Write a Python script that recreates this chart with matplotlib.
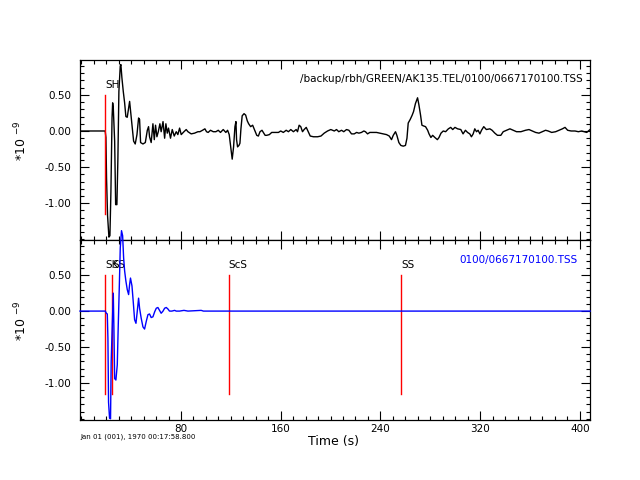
import matplotlib
matplotlib.use('Agg')
import matplotlib.pyplot as plt
from matplotlib.ticker import MultipleLocator, FixedLocator

# top trace (black), time in s and amplitude in 1e-9
top_t = [-1.0, 19.2, 19.8, 20.3, 21.1, 22.2, 23.0, 23.8, 24.7, 25.2, 25.7, 26.8, 27.6, 28.6,
         29.4, 30.2, 31.3, 31.8, 32.6, 33.7, 34.8, 35.8, 36.9, 38.0, 38.8, 39.5, 40.7, 42.0,
         43.3, 44.7, 46.0, 46.8, 47.6, 49.5, 51.4, 53.0, 54.0, 54.8, 56.1, 57.5, 58.6, 59.6,
         60.7, 61.8, 63.1, 64.1, 65.6, 66.9, 67.9, 69.0, 70.0, 71.6, 73.0, 74.6, 76.2, 77.5,
         78.9, 80.2, 82.4, 84.2, 85.6, 88.2, 90.9, 93.6, 95.2, 97.3, 99.2, 100.5, 101.8, 103.7,
         105.9, 108.0, 109.9, 111.7, 113.9, 116.0, 117.4, 118.7, 120.0, 121.1, 122.2, 123.3,
         124.1, 124.6, 125.4, 126.5, 127.3, 128.1, 129.1, 130.6, 131.9, 133.2, 134.3, 135.9,
         137.5, 138.9, 140.8, 142.1, 143.4, 145.0, 146.1, 147.5, 148.8, 150.9, 152.8, 155.5,
         158.2, 160.0, 162.1, 164.4, 166.2, 168.1, 170.2, 172.4, 173.5, 174.8, 176.1, 177.5,
         178.8, 180.5, 182.1, 183.7, 186.3, 189.6, 192.3, 194.9, 197.6, 200.2, 203.0, 204.8,
         206.6, 208.8, 210.6, 212.8, 214.7, 216.8, 219.0, 220.9, 222.7, 224.8, 226.7, 228.0,
         229.7, 231.5, 234.2, 236.9, 239.6, 242.2, 244.9, 247.1, 248.9, 250.3, 252.1, 253.2,
         254.8, 256.4, 258.3, 260.1, 261.3, 262.3, 263.9, 265.5, 266.6, 268.1, 269.8, 270.9,
         272.2, 273.3, 274.6, 276.2, 277.9, 279.0, 280.5, 281.9, 283.7, 285.7, 287.0, 288.6,
         290.4, 292.3, 294.5, 296.4, 298.0, 299.8, 301.9, 304.5, 306.3, 308.2, 309.9, 311.7,
         313.0, 314.4, 315.7, 317.1, 318.4, 319.8, 321.1, 322.9, 325.0, 327.8, 329.6, 331.8,
         333.9, 336.6, 338.5, 341.1, 343.9, 346.5, 349.2, 352.7, 356.4, 359.2, 361.8, 364.5,
         367.2, 369.9, 372.5, 374.6, 377.4, 380.6, 383.2, 386.0, 388.1, 390.2, 393.0, 396.1,
         398.8, 401.5, 403.6, 405.5, 406.8, 408.2]
top_v = [0.0, 0.0, -0.09, -0.66, -1.17, -1.47, -1.45, -0.84, 0.18, 0.39, 0.32, -0.14, -1.02, -1.02,
         -0.38, 0.55, 0.90, 0.92, 0.74, 0.55, 0.39, 0.20, 0.19, 0.32, 0.41, 0.29, 0.09, -0.14,
         -0.18, -0.05, 0.18, 0.16, -0.16, -0.18, -0.16, 0.01, 0.06, -0.08, -0.16, 0.10, -0.12, 0.08,
         -0.08, -0.01, 0.10, -0.01, 0.13, -0.10, 0.10, -0.03, 0.04, -0.10, 0.02, -0.07, -0.01, -0.05,
         0.04, -0.05, -0.01, 0.02, -0.01, -0.04, -0.03, -0.01, -0.01, 0.01, 0.03, -0.01, -0.02, 0.01,
         -0.01, -0.01, 0.01, -0.02, 0.02, -0.02, 0.01, -0.05, -0.24, -0.39, -0.22, 0.06,
         0.13, -0.12, -0.22, -0.20, -0.17, 0.03, 0.21, 0.24, 0.22, 0.14, 0.10, 0.06,
         0.08, 0.02, -0.06, -0.07, -0.01, 0.01, -0.02, -0.06, -0.06, -0.05, -0.02, -0.02,
         -0.02, 0.0, -0.02, 0.01, -0.01, 0.02, -0.01, 0.02, -0.01, 0.08, 0.06, -0.01,
         0.02, 0.05, -0.01, -0.07, -0.08, -0.08, -0.07, -0.03, 0.0, 0.02, 0.0, 0.02,
         -0.01, 0.01, -0.01, 0.02, 0.01, -0.04, -0.04, -0.02, -0.03, -0.02, 0.0, -0.01,
         -0.04, -0.02, -0.02, -0.02, -0.03, -0.04, -0.05, -0.07, -0.12, -0.06, -0.01, -0.06,
         -0.16, -0.20, -0.21, -0.20, -0.10, 0.11, 0.16, 0.22, 0.27, 0.38, 0.46, 0.36,
         0.22, 0.08, 0.07, 0.06, 0.01, -0.04, -0.09, -0.06, -0.09, -0.12, -0.09, -0.03,
         0.0, -0.01, 0.03, 0.05, 0.02, 0.05, 0.03, 0.02, -0.04, 0.01, -0.02, -0.04,
         -0.08, -0.04, 0.03, -0.01, 0.01, -0.04, 0.01, 0.06, 0.02, 0.03, 0.01, -0.03,
         -0.06, -0.06, -0.01, 0.01, 0.03, 0.01, -0.01, -0.01, 0.01, 0.02, 0.0, -0.02,
         -0.03, -0.01, 0.01, 0.0, -0.02, -0.01, 0.01, 0.03, 0.05, 0.01, 0.0, 0.0,
         -0.01, 0.0, -0.01, -0.02, 0.0, 0.02]

# bottom trace (blue)
bot_t = [-1.0, 19.3, 20.1, 20.9, 21.4, 21.9, 22.7, 23.5, 24.0, 24.9, 25.7, 26.2, 26.8, 27.8, 28.9,
         29.7, 30.5, 31.3, 32.3, 33.2, 34.0, 34.8, 35.8, 36.9, 38.0, 38.8, 39.5, 40.7, 41.8,
         42.8, 43.9, 44.9, 46.0, 46.8, 48.1, 49.5, 50.8, 52.2, 53.5, 54.8, 56.1, 57.5, 58.9,
         60.2, 61.5, 62.8, 64.1, 65.6, 66.9, 68.2, 69.5, 70.8, 72.7, 74.9, 76.2, 78.9, 82.4,
         85.6, 96.2, 98.0, 408.2]
bot_v = [0.0, 0.0, -0.03, -0.04, -0.38, -1.27, -1.49, -1.50, -0.71, -0.19, 0.25, -0.24, -0.94, -0.96, -0.75,
         -0.19, 0.32, 0.88, 1.12, 1.05, 0.74, 0.56, 0.42, 0.30, 0.23, 0.37, 0.46, 0.35, 0.11,
         -0.12, -0.17, -0.01, 0.18, 0.04, -0.10, -0.22, -0.25, -0.14, -0.05, -0.04, -0.09, -0.08, -0.01,
         0.04, 0.05, 0.01, -0.03, 0.0, 0.04, 0.05, 0.03, 0.0, 0.0, 0.01, 0.0, 0.0, 0.01,
         0.0, 0.01, 0.0, 0.0]

# phase picks
top_picks = [19.2]
top_pick_labels = ['SH']
bot_picks = [19.2, 24.9, 118.2, 256.6]
bot_pick_labels = ['SKS', 'S', 'ScS', 'SS']

top_title = '/backup/rbh/GREEN/AK135.TEL/0100/0667170100.TSS'
bot_title = '0100/0667170100.TSS'
date_text = 'Jan 01 (001), 1970 00:17:58.800'

xlim = (-1.0, 408.2)
xticks = [80, 160, 240, 320, 400]
ylim = (-1.51, 0.99)
yticks = [-1.0, -0.5, 0.0, 0.5]
ytick_labels = ['-1.00', '-0.50', '0.00', '0.50']

fig = plt.figure(figsize=(6.4, 4.8), dpi=100)
ax1 = fig.add_axes([0.125, 0.5, 0.797, 0.376])
ax2 = fig.add_axes([0.125, 0.126, 0.797, 0.374])


def style(ax):
    ax.set_xlim(*xlim)
    ax.set_ylim(*ylim)
    ax.xaxis.set_major_locator(FixedLocator(xticks))
    ax.xaxis.set_minor_locator(MultipleLocator(10))
    ax.yaxis.set_major_locator(FixedLocator(yticks))
    ax.set_yticklabels(ytick_labels)
    ax.yaxis.set_minor_locator(MultipleLocator(0.1))
    ax.tick_params(which='both', direction='in', top=True, right=True, width=0.8, labelsize=7.5, pad=6)
    ax.tick_params(which='major', length=6.5)
    ax.tick_params(which='minor', length=3)
    for s in ax.spines.values():
        s.set_linewidth(0.9)
    ax.set_ylabel('*10 $^{-9}$', fontsize=9)
    ax.yaxis.set_label_coords(-0.1, 0.55)


def picks(ax, times, labels):
    for t, lab in zip(times, labels):
        ax.plot([t, t], [-1.15, 0.5], color='red', lw=1.0)
        ax.text(t, 0.6, lab, fontsize=7.5, ha='left', va='baseline')


# top panel
style(ax1)
ax1.plot(top_t, top_v, color='black', lw=1.0)
picks(ax1, top_picks, top_pick_labels)
ax1.tick_params(labelbottom=False)
ax1.text(0.985, 0.89, top_title, transform=ax1.transAxes, ha='right', va='center', fontsize=7.5)

# bottom panel
style(ax2)
ax2.plot(bot_t, bot_v, color='blue', lw=1.0, clip_on=False, zorder=5)
picks(ax2, bot_picks, bot_pick_labels)
ax2.text(0.975, 0.89, bot_title, transform=ax2.transAxes, ha='right', va='center', fontsize=7.5, color='blue')
ax2.tick_params(axis='x', pad=3)

fig.text(333 / 640, 1 - 442 / 480, 'Time (s)', ha='center', va='center', fontsize=9)
fig.text(80 / 640, 1 - 437 / 480, date_text, ha='left', va='center', fontsize=5)

fig.savefig('out.png', dpi=100)
